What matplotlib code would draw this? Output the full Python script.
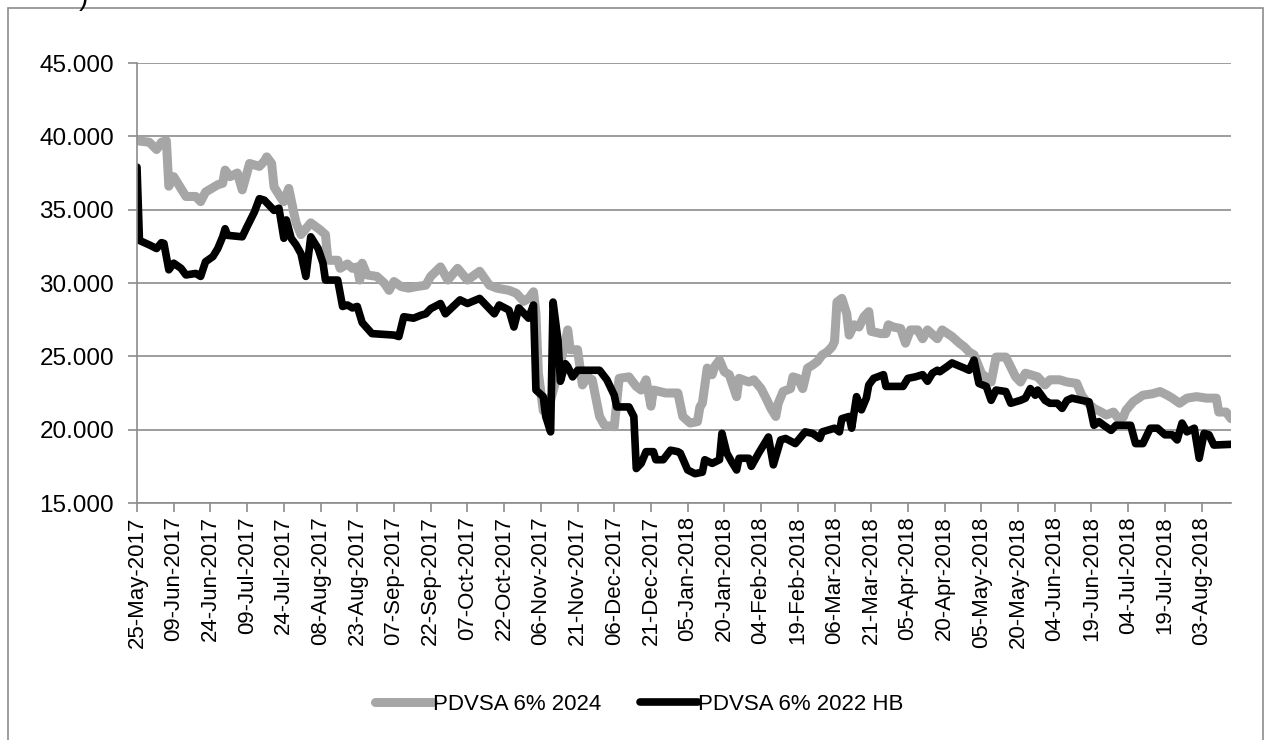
import matplotlib.pyplot as plt
import matplotlib.dates as mdates
import matplotlib.patches as patches
import pandas as pd

start = pd.Timestamp('2017-05-25')
end_day = 447

# PDVSA 6% 2024 (days after 25-May-2017, price)
days_2024 = [0, 5, 8, 10, 12, 13, 15, 20, 24, 26, 28, 33, 35, 36, 38, 41, 43, 46, 50, 52,
             53, 55, 56, 59, 60, 62, 64, 65, 67, 71, 75, 77, 78, 82, 83, 86, 88, 90, 91, 92,
             94, 98, 101, 103, 105, 108, 111, 114, 118, 120, 124, 127, 131, 135, 140, 144, 147, 152, 155, 158,
             160, 162, 163, 164, 166, 169, 173, 176, 177, 180, 182, 184, 186, 189, 191, 195, 197, 201, 204, 206,
             208, 210, 211, 216, 221, 223, 226, 229, 230, 231, 233, 235, 236, 238, 240, 242, 245, 246, 250, 252,
             255, 257, 259, 261, 262, 264, 267, 268, 270, 272, 274, 276, 278, 280, 282, 284, 285, 286, 288, 290,
             291, 293, 295, 297, 299, 300, 304, 306, 307, 309, 312, 314, 316, 319, 321, 323, 327, 329, 333, 336,
             338, 340, 342, 345, 349, 351, 355, 359, 361, 363, 368, 371, 373, 377, 380, 384, 386, 388, 391, 394,
             396, 399, 401, 403, 404, 407, 411, 415, 418, 421, 423, 426, 429, 433, 437, 441, 442, 445, 447]
pdvsa_2024 = [39.7, 39.6, 39.1, 39.6, 39.7, 36.6, 37.25, 35.9, 35.9, 35.55, 36.2, 36.7, 36.8, 37.7, 37.25, 37.5, 36.35, 38.15, 37.95, 38.3,
              38.6, 38.15, 36.55, 35.75, 35.55, 36.45, 34.85, 34.1, 33.3, 34.1, 33.6, 33.3, 31.55, 31.55, 31.0, 31.3, 31.0, 31.1, 30.2, 31.35,
              30.55, 30.45, 30.0, 29.5, 30.1, 29.75, 29.65, 29.75, 29.85, 30.45, 31.1, 30.2, 31.0, 30.2, 30.8, 29.85, 29.65, 29.5, 29.3, 28.75,
              28.95, 29.4, 27.95, 23.85, 21.3, 22.0, 24.5, 26.8, 25.45, 25.45, 23.05, 23.6, 23.4, 20.9, 20.3, 20.2, 23.5, 23.6, 22.95, 22.7,
              23.4, 21.6, 22.7, 22.5, 22.5, 20.9, 20.45, 20.55, 21.55, 21.8, 24.2, 23.75, 24.3, 24.75, 23.95, 23.75, 22.25, 23.5, 23.25, 23.4,
              22.8, 22.15, 21.45, 20.9, 21.8, 22.6, 22.8, 23.6, 23.5, 22.8, 24.2, 24.4, 24.65, 25.1, 25.3, 25.65, 26.0, 28.7, 28.95, 27.9,
              26.45, 27.15, 27.0, 27.7, 28.05, 26.7, 26.55, 26.55, 27.15, 27.0, 26.9, 25.9, 26.8, 26.8, 26.2, 26.8, 26.2, 26.8, 26.35, 25.9,
              25.65, 25.3, 25.1, 23.85, 23.25, 24.95, 24.95, 23.6, 23.25, 23.85, 23.6, 23.05, 23.4, 23.4, 23.25, 23.15, 22.35, 21.9, 21.45, 21.2,
              21.0, 21.2, 20.75, 20.85, 21.3, 21.9, 22.35, 22.45, 22.6, 22.35, 22.15, 21.8, 22.15, 22.25, 22.15, 22.15, 21.2, 21.2, 20.75]

# PDVSA 6% 2022 HB
days_2022 = [0, 1, 5, 8, 10, 11, 13, 15, 18, 20, 24, 26, 28, 31, 33, 35, 36, 37, 43, 45,
             48, 50, 52, 54, 56, 58, 60, 61, 63, 65, 67, 69, 70, 71, 74, 76, 77, 82, 84, 86,
             88, 90, 92, 96, 105, 107, 109, 113, 116, 118, 120, 124, 126, 132, 135, 140, 146, 148, 152, 154,
             156, 160, 162, 163, 166, 167, 169, 170, 172, 173, 175, 176, 178, 180, 189, 192, 195, 196, 201, 203,
             204, 206, 208, 211, 212, 215, 218, 221, 222, 225, 228, 231, 232, 235, 238, 239, 241, 243, 245, 246,
             250, 251, 254, 258, 260, 263, 265, 269, 273, 276, 279, 280, 285, 287, 288, 291, 292, 294, 296, 298,
             299, 301, 305, 306, 313, 315, 318, 321, 323, 325, 327, 328, 331, 333, 338, 340, 342, 344, 347, 349,
             351, 355, 357, 361, 363, 365, 367, 368, 371, 373, 376, 378, 380, 382, 386, 389, 391, 393, 395, 398,
             400, 406, 408, 411, 414, 417, 420, 423, 425, 427, 429, 432, 434, 436, 438, 440, 447]
pdvsa_2022 = [37.9, 32.9, 32.6, 32.35, 32.75, 32.7, 30.9, 31.35, 31.0, 30.55, 30.65, 30.45, 31.45, 31.8, 32.35, 33.15, 33.7, 33.25, 33.15, 33.85,
              34.85, 35.75, 35.65, 35.3, 34.95, 35.1, 33.05, 34.3, 33.05, 32.6, 32.0, 30.45, 31.8, 33.15, 32.35, 31.35, 30.2, 30.2, 28.4, 28.5,
              28.3, 28.4, 27.3, 26.55, 26.45, 26.35, 27.7, 27.6, 27.8, 27.9, 28.25, 28.6, 27.9, 28.85, 28.6, 28.95, 27.9, 28.5, 28.15, 27.0,
              28.3, 27.6, 28.5, 22.7, 22.25, 20.9, 19.85, 28.7, 26.1, 23.3, 24.5, 24.3, 23.6, 24.05, 24.05, 23.4, 22.35, 21.55, 21.55, 20.9,
              17.35, 17.7, 18.5, 18.5, 17.95, 17.95, 18.6, 18.5, 18.4, 17.25, 17.0, 17.1, 17.95, 17.7, 17.95, 19.75, 18.4, 17.8, 17.25, 18.05,
              18.05, 17.5, 18.4, 19.5, 17.6, 19.3, 19.4, 19.05, 19.85, 19.75, 19.4, 19.85, 20.1, 19.85, 20.75, 20.9, 20.1, 22.25, 21.35, 22.15,
              23.05, 23.5, 23.75, 22.95, 22.95, 23.5, 23.6, 23.75, 23.3, 23.85, 24.05, 23.95, 24.3, 24.55, 24.2, 24.05, 24.75, 23.15, 22.95, 22.0,
              22.7, 22.6, 21.8, 22.0, 22.15, 22.8, 22.35, 22.7, 22.0, 21.8, 21.8, 21.45, 22.0, 22.15, 22.0, 21.9, 20.3, 20.55, 20.3, 19.95,
              20.3, 20.3, 19.05, 19.05, 20.1, 20.1, 19.65, 19.65, 19.3, 20.45, 19.85, 20.1, 18.05, 19.75, 19.65, 18.95, 19.0]

dates_2024 = start + pd.to_timedelta(days_2024, unit='D')
dates_2022 = start + pd.to_timedelta(days_2022, unit='D')

plt.rcParams['font.family'] = ['Liberation Sans', 'DejaVu Sans']

fig = plt.figure(figsize=(12.66, 7.4), dpi=100)
ax = fig.add_axes([137 / 1266, 1 - 503 / 740, (1231 - 137) / 1266, 440 / 740])

ax.plot(dates_2024, pdvsa_2024, color='#a6a6a6', lw=6.5, solid_joinstyle='round',
        solid_capstyle='round', label='PDVSA 6% 2024')
ax.plot(dates_2022, pdvsa_2022, color='black', lw=5.5, solid_joinstyle='round',
        solid_capstyle='round', label='PDVSA 6% 2022 HB')

ax.set_ylim(15, 45)
ax.set_yticks([15, 20, 25, 30, 35, 40, 45])
ax.yaxis.set_major_formatter(plt.FuncFormatter(lambda v, p: f'{v:.3f}'))
ax.set_xlim(start, start + pd.Timedelta(days=end_day))
ticks = [start + pd.Timedelta(days=d) for d in range(0, end_day, 15)]
ax.set_xticks(ticks)
ax.xaxis.set_major_formatter(mdates.DateFormatter('%d-%b-%Y'))
plt.setp(ax.get_xticklabels(), rotation=90)

ax.grid(axis='y', color='#8c8c8c', lw=1.2)
ax.set_axisbelow(True)
for s in ['top', 'right']:
    ax.spines[s].set_visible(False)
for s in ['left', 'bottom']:
    ax.spines[s].set_color('#8c8c8c')
    ax.spines[s].set_linewidth(1.2)
ax.tick_params(axis='both', length=6.5, width=1.2, color='#8c8c8c')
ax.tick_params(axis='y', labelsize=17.5, pad=10)
ax.tick_params(axis='x', labelsize=16, pad=3)

fig.legend(loc='center', bbox_to_anchor=(639 / 1266, 1 - 704 / 740), ncol=2, frameon=False,
           fontsize=16, handlelength=2.6, handletextpad=0.0, columnspacing=1.75)

# outer chart frame
fig.patches.append(patches.Rectangle((8 / 1266, -0.05), (1263 - 8) / 1266, 1.05 - 8 / 740,
                                     transform=fig.transFigure, fill=False,
                                     edgecolor='#8c8c8c', lw=1.2))
fig.text(83 / 1266, 1.003, ')', fontsize=20, ha='center', va='center')

fig.savefig('out.png', dpi=100)
